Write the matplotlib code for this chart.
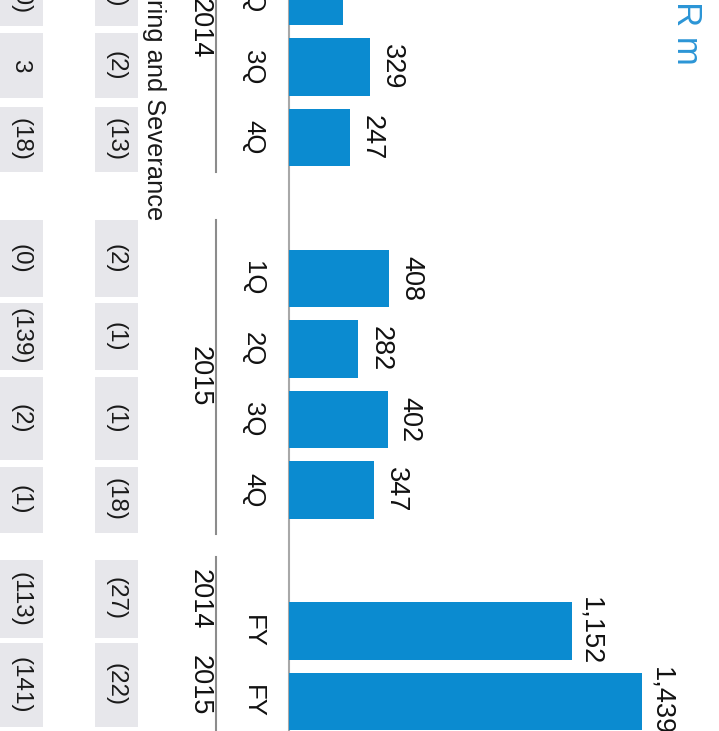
import matplotlib.pyplot as plt
import matplotlib.transforms as mtransforms
from matplotlib.patches import Rectangle

plt.rcParams['font.family'] = ['Liberation Sans', 'DejaVu Sans']

# EBITDA by quarter and full year, EUR m
periods = ['1Q', '2Q', '3Q', '4Q', '1Q', '2Q', '3Q', '4Q', 'FY', 'FY']
years = ['2014', '2014', '2014', '2014', '2015', '2015', '2015', '2015', '2014', '2015']
ebitda = [356, 220, 329, 247, 408, 282, 402, 347, 1152, 1439]

# rows of the small table under the bars
other_items = [-88, -10, 3, -18, -0.4, -139, -2, -1, -113, -141]
restructuring = [-11, -1, -2, -13, -2, -1, -1, -18, -27, -22]

# slot of each bar (gaps between the groups)
bar_pos = [0, 1, 2, 3, 5, 6, 7, 8, 10, 11]
# table cells do not sit on the bar grid exactly
cell_edges = [(-0.58, 0.38), (0.48, 1.42), (1.52, 2.44), (2.57, 3.49),
              (4.17, 5.26), (5.35, 6.30), (6.40, 7.57), (7.67, 8.61),
              (8.99, 10.10), (10.17, 11.36)]
group_lines = [(-1.0, 3.49), (4.17, 8.63), (8.95, 12.0)]

W, H = 719, 731
BLUE = '#0b8bd0'
GREY_BOX = '#e7e7eb'


def fmt(v):
    r = round(v)
    return f'({abs(r)})' if v < 0 else f'{r}'


fig = plt.figure(figsize=(W / 100, H / 100), dpi=100)
ax = fig.add_axes([0, 0, 1, 1])
ax.set_xlim(-289 / 0.2455, (W - 289) / 0.2455)
ax.set_ylim(11.418, 1.0496)
ax.axis('off')

tr = mtransforms.blended_transform_factory(ax.transAxes, ax.transData)

ax.barh(bar_pos, ebitda, height=0.82, color=BLUE, zorder=2)
ax.axvline(0, color='#a8a8a8', lw=1.5, zorder=1)

for p, v, q in zip(bar_pos, ebitda, periods):
    off = 6 if q == 'FY' else 9
    ax.annotate(f'{v:,}', xy=(v, p), xytext=(off, 0), textcoords='offset pixels',
                rotation=-90, ha='left', va='center', fontsize=19.5, color='#111111')
    ax.text(253 / W, p, q, transform=tr, rotation=-90, ha='center', va='center',
            fontsize=18.5, color='#111111')

# year labels and group separators
ax.text(200 / W, (cell_edges[0][0] + cell_edges[3][1]) / 2, '2014', transform=tr,
        rotation=-90, ha='center', va='center', fontsize=19.5, color='#111111')
ax.text(200 / W, (cell_edges[4][0] + cell_edges[7][1]) / 2, '2015', transform=tr,
        rotation=-90, ha='center', va='center', fontsize=19.5, color='#111111')
for i in (8, 9):
    ax.text(200 / W, sum(cell_edges[i]) / 2, years[i], transform=tr,
            rotation=-90, ha='center', va='center', fontsize=19.5, color='#111111')
for a, b in group_lines:
    ax.plot([216 / W, 216 / W], [a, b], transform=tr, color='#8c8c8c', lw=1.5)

# table rows
for (a, b), v1, v2 in zip(cell_edges, other_items, restructuring):
    ax.add_patch(Rectangle((-3 / W, a), 46 / W, b - a, transform=tr,
                           color=GREY_BOX, lw=0, zorder=0))
    ax.add_patch(Rectangle((95 / W, a), 43 / W, b - a, transform=tr,
                           color=GREY_BOX, lw=0, zorder=0))
    ax.text(20 / W, (a + b) / 2, fmt(v1), transform=tr, rotation=-90,
            ha='center', va='center', fontsize=17.5, color='#1a1a1a')
    ax.text(116 / W, (a + b) / 2, fmt(v2), transform=tr, rotation=-90,
            ha='center', va='center', fontsize=17.5, color='#1a1a1a')

ax.text(142 / W, cell_edges[4][0], 'Restructuring and Severance', transform=tr,
        rotation=-90, ha='left', va='bottom', fontsize=18.3, color='#1a1a1a')

ax.text(670 / W, 1.97, 'EUR m', transform=tr, rotation=-90, ha='left', va='bottom',
        fontsize=25, color='#2b95d6')

fig.savefig('out.png', dpi=100)
